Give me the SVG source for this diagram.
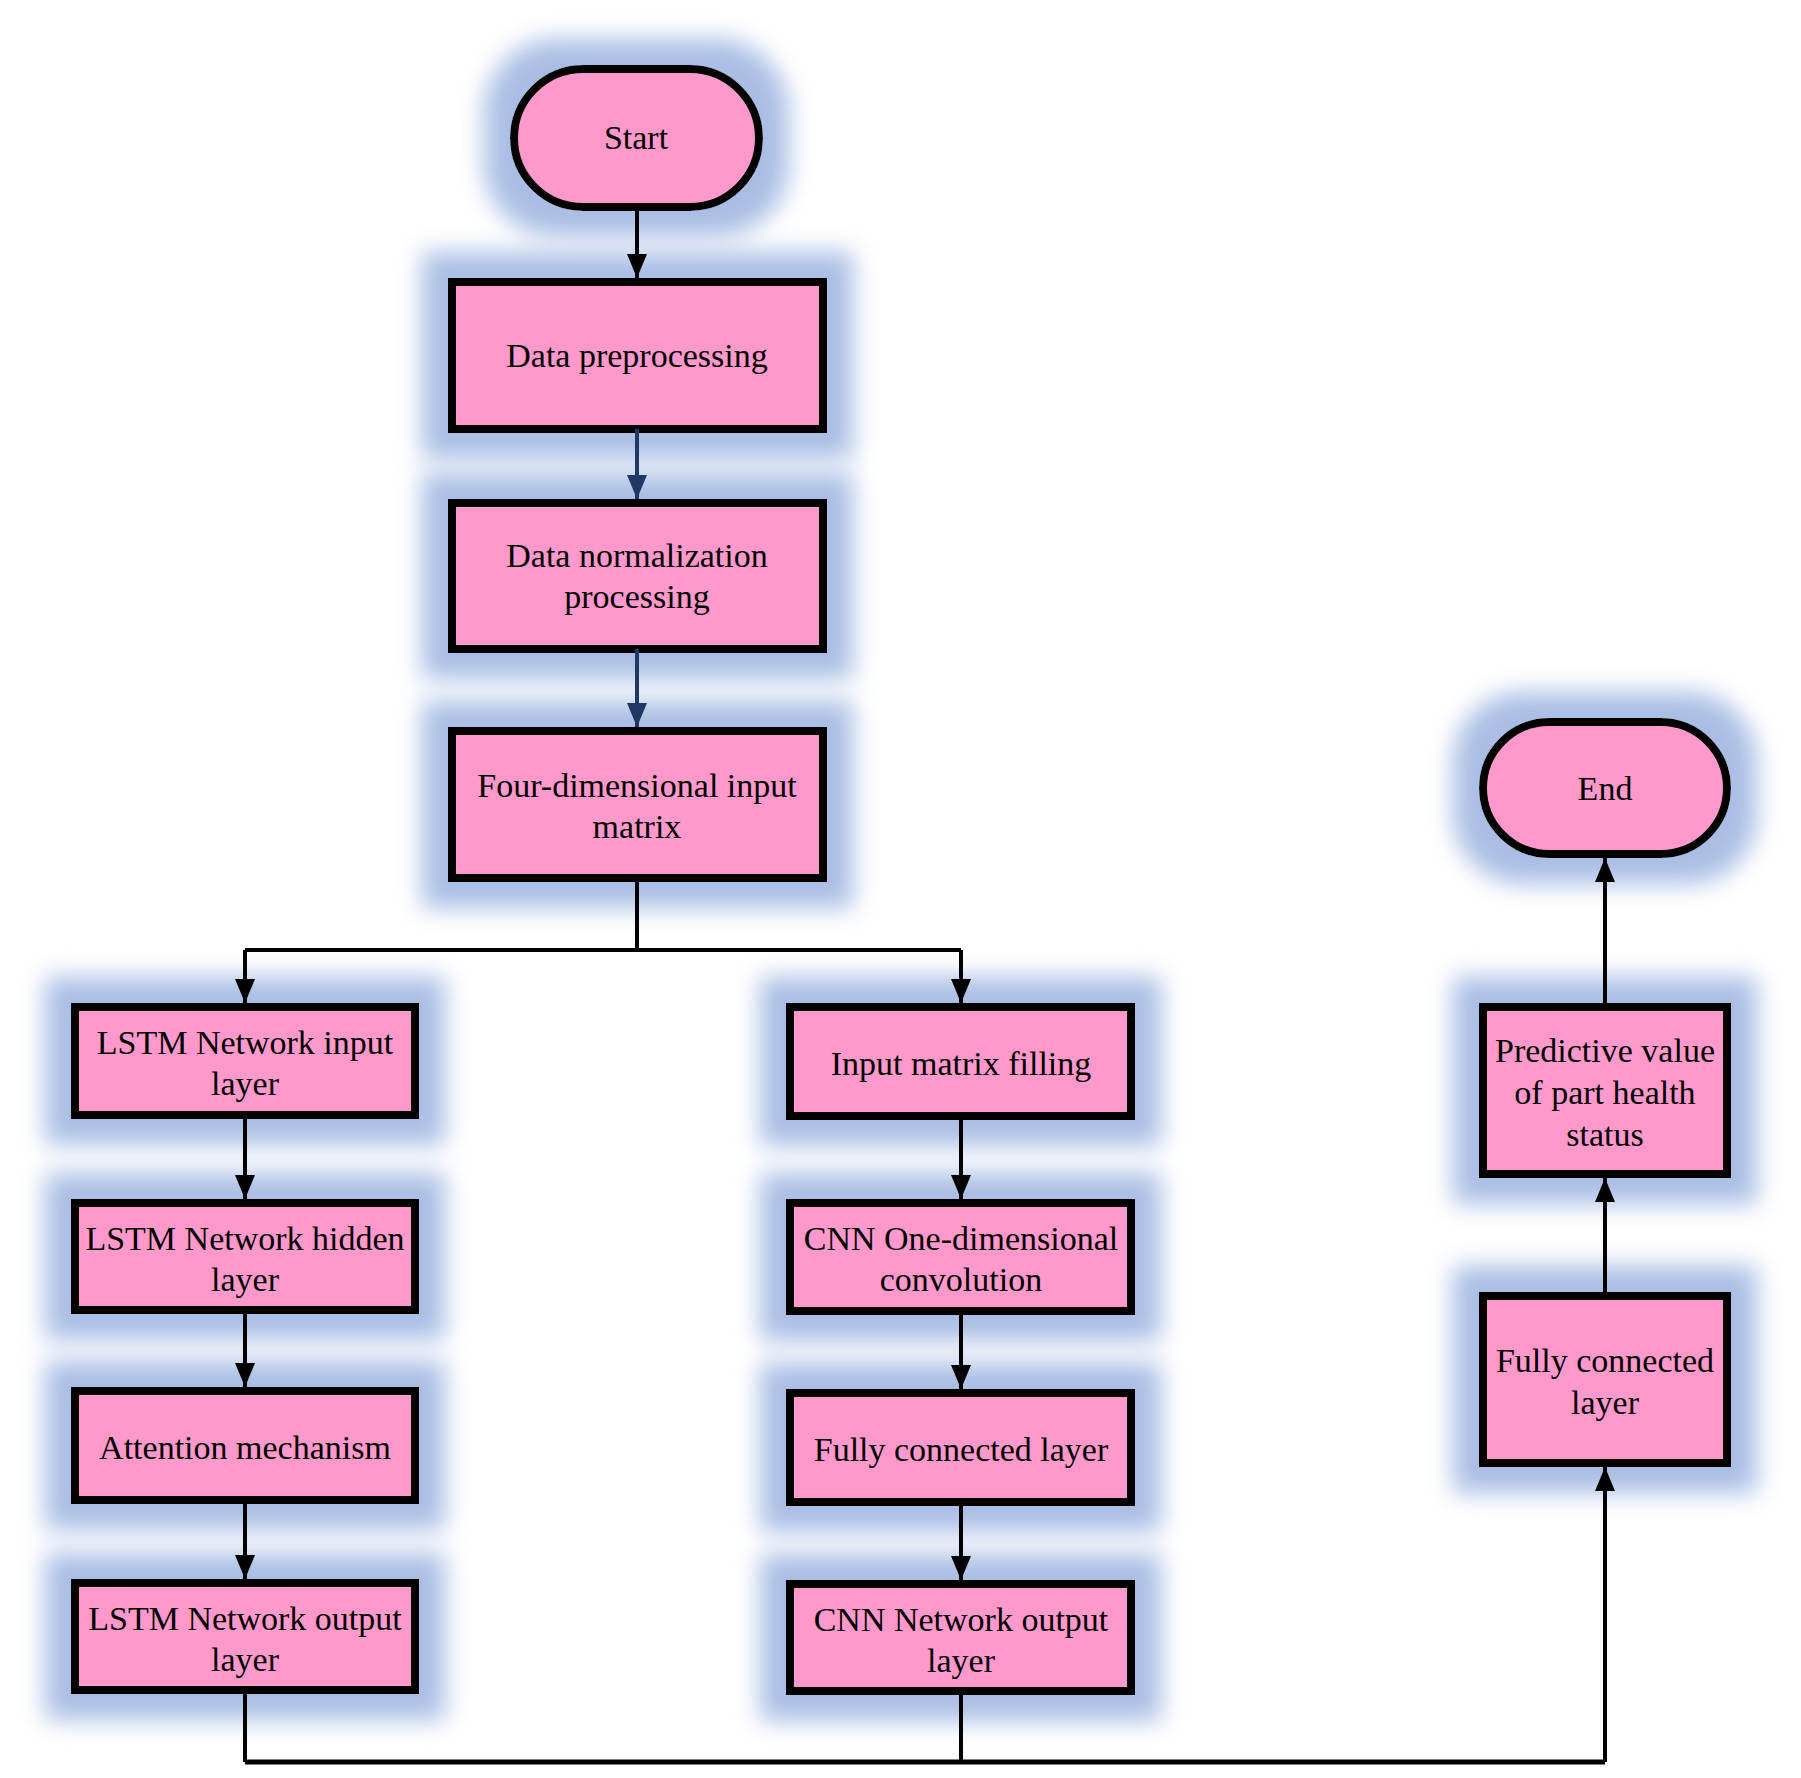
<svg xmlns="http://www.w3.org/2000/svg" width="1801" height="1778" viewBox="0 0 1801 1778">
<style>
.box{fill:#ff99cc;stroke:#000;stroke-width:8;filter:url(#glow)}
.t{font-family:"Liberation Serif","Times New Roman",serif;font-size:34px;fill:#000;text-anchor:middle}
.c{fill:none;stroke:#000;stroke-width:4}
.n{stroke:#1f3864}
</style>
<defs>
<filter id="glow" x="-35%" y="-100%" width="170%" height="300%">
<feMorphology in="SourceAlpha" operator="dilate" radius="26" result="d"/>
<feGaussianBlur in="d" stdDeviation="12" result="b"/>
<feFlood flood-color="#aabee4"/>
<feComposite in2="b" operator="in" result="g"/>
<feMerge><feMergeNode in="g"/><feMergeNode in="SourceGraphic"/></feMerge>
</filter>
<marker id="arr" viewBox="0 0 24 20" refX="24" refY="10" markerWidth="24" markerHeight="20" markerUnits="userSpaceOnUse" orient="auto"><path d="M0,0 L24,10 L0,20 z" fill="#000"/></marker>
<marker id="arrn" viewBox="0 0 24 20" refX="24" refY="10" markerWidth="24" markerHeight="20" markerUnits="userSpaceOnUse" orient="auto"><path d="M0,0 L24,10 L0,20 z" fill="#1f3864"/></marker>
</defs>
<rect width="1801" height="1778" fill="#fff"/>
<g id="start"><rect class="box" x="514" y="69" width="245" height="138" rx="69"/><text class="t" x="636" y="149">Start</text></g>
<g id="data-preprocessing"><rect class="box" x="452" y="282" width="371" height="147"/><text class="t" x="637" y="367">Data preprocessing</text></g>
<g id="data-normalization"><rect class="box" x="452" y="503" width="371" height="146"/><text class="t" x="637" y="567">Data normalization</text><text class="t" x="637" y="608">processing</text></g>
<g id="four-dim"><rect class="box" x="452" y="731" width="371" height="147"/><text class="t" x="637" y="797">Four-dimensional input</text><text class="t" x="637" y="838">matrix</text></g>
<g id="lstm-input"><rect class="box" x="75" y="1007" width="340" height="108"/><text class="t" x="245" y="1054">LSTM Network input</text><text class="t" x="245" y="1095">layer</text></g>
<g id="lstm-hidden"><rect class="box" x="75" y="1203" width="340" height="107"/><text class="t" x="245" y="1250">LSTM Network hidden</text><text class="t" x="245" y="1291">layer</text></g>
<g id="attention"><rect class="box" x="75" y="1391" width="340" height="109"/><text class="t" x="245" y="1459">Attention mechanism</text></g>
<g id="lstm-output"><rect class="box" x="75" y="1583" width="340" height="107"/><text class="t" x="245" y="1630">LSTM Network output</text><text class="t" x="245" y="1671">layer</text></g>
<g id="input-matrix"><rect class="box" x="790" y="1007" width="341" height="109"/><text class="t" x="961" y="1075">Input matrix filling</text></g>
<g id="cnn-conv"><rect class="box" x="790" y="1203" width="341" height="108"/><text class="t" x="961" y="1250">CNN One-dimensional</text><text class="t" x="961" y="1291">convolution</text></g>
<g id="fc-cnn"><rect class="box" x="790" y="1393" width="341" height="109"/><text class="t" x="961" y="1461">Fully connected layer</text></g>
<g id="cnn-output"><rect class="box" x="790" y="1584" width="341" height="107"/><text class="t" x="961" y="1631">CNN Network output</text><text class="t" x="961" y="1672">layer</text></g>
<g id="fc-final"><rect class="box" x="1483" y="1296" width="244" height="167"/><text class="t" x="1605" y="1372">Fully connected</text><text class="t" x="1605" y="1414">layer</text></g>
<g id="predictive"><rect class="box" x="1483" y="1007" width="244" height="167"/><text class="t" x="1605" y="1062">Predictive value</text><text class="t" x="1605" y="1104">of part health</text><text class="t" x="1605" y="1146">status</text></g>
<g id="end"><rect class="box" x="1483" y="722" width="244" height="132" rx="66"/><text class="t" x="1605" y="800">End</text></g>
<g id="connectors">
<path class="c" d="M637,207 V278" marker-end="url(#arr)"/>
<path class="c n" d="M637,429 V499" marker-end="url(#arrn)"/>
<path class="c n" d="M637,649 V727" marker-end="url(#arrn)"/>
<path class="c" d="M637,878 V950 H245"/>
<path class="c" d="M637,950 H961"/>
<path class="c" d="M245,950 V1003" marker-end="url(#arr)"/>
<path class="c" d="M961,950 V1003" marker-end="url(#arr)"/>
<path class="c" d="M245,1115 V1199" marker-end="url(#arr)"/>
<path class="c" d="M245,1310 V1387" marker-end="url(#arr)"/>
<path class="c" d="M245,1500 V1579" marker-end="url(#arr)"/>
<path class="c" d="M961,1116 V1199" marker-end="url(#arr)"/>
<path class="c" d="M961,1311 V1389" marker-end="url(#arr)"/>
<path class="c" d="M961,1502 V1580" marker-end="url(#arr)"/>
<path class="c" d="M245,1690 V1762"/>
<path class="c" d="M961,1691 V1762"/>
<path class="c" style="stroke-width:5" d="M245,1762 H1605"/>
<path class="c" d="M1605,1762 V1467" marker-end="url(#arr)"/>
<path class="c" d="M1605,1296 V1178" marker-end="url(#arr)"/>
<path class="c" d="M1605,1007 V858" marker-end="url(#arr)"/>
</g>
</svg>
